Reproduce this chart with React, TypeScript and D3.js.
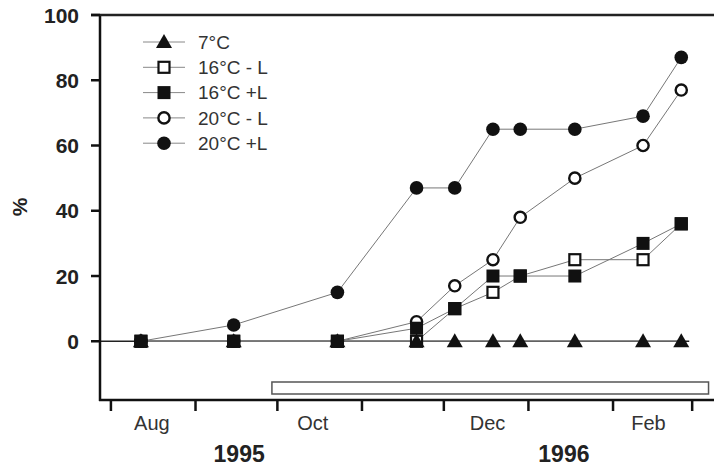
import * as d3 from 'd3';

const sampleDates = ["1995-08-12", "1995-09-15", "1995-10-23", "1995-11-21", "1995-12-05", "1995-12-19", "1995-12-29", "1996-01-18", "1996-02-12", "1996-02-26"];
const t7 = [0, 0, 0, 0, 0, 0, 0, 0, 0, 0];
const t16minus = [0, 0, 0, 0, 10, 15, 20, 25, 25, 36];
const t16plus = [0, 0, 0, 4, 10, 20, 20, 20, 30, 36];
const t20minus = [0, 0, 0, 6, 17, 25, 38, 50, 60, 77];
const t20plus = [0, 5, 15, 47, 47, 65, 65, 65, 69, 87];

const seriesNames = ["7°C", "16°C - L", "16°C +L", "20°C - L", "20°C +L"];
const seriesShapes = ["triangle", "square-open", "square", "circle-open", "circle"];
const seriesValues = [t7, t16minus, t16plus, t20minus, t20plus];

const yTicks = [0, 20, 40, 60, 80, 100];
const monthTicks = ["1995-08-01", "1995-09-01", "1995-10-01", "1995-11-01", "1995-12-01", "1996-01-01", "1996-02-01", "1996-03-01"];
const monthLabels = ["Aug", "Oct", "Dec", "Feb"];
const monthLabelDates = ["1995-08-16", "1995-10-14", "1995-12-17", "1996-02-14"];
const yearLabels = ["1995", "1996"];
const yearLabelDates = ["1995-09-17", "1996-01-14"];
const periodBar = ["1995-09-29", "1996-03-07"];

const FONT = "'Liberation Sans', Arial, sans-serif";
const parse = d3.timeParse("%Y-%m-%d");

function Marker({ shape, x, y }: { shape: string; x: number; y: number }) {
  if (shape === "triangle") {
    return <path d={`M${x},${y - 8}L${x + 8},${y + 6}L${x - 8},${y + 6}Z`} fill="#111" />;
  }
  if (shape === "square") {
    return <rect x={x - 6.5} y={y - 6.5} width={13} height={13} fill="#111" />;
  }
  if (shape === "square-open") {
    return <rect x={x - 5.5} y={y - 5.5} width={11} height={11} fill="#fff" stroke="#111" strokeWidth={2.2} />;
  }
  if (shape === "circle") {
    return <circle cx={x} cy={y} r={6.8} fill="#111" />;
  }
  return <circle cx={x} cy={y} r={5.6} fill="#fff" stroke="#111" strokeWidth={2.4} />;
}

export default function App() {
  const width = 714;
  const height = 468;
  const left = 100;
  const top = 15;
  const bottom = 400;

  const x = d3.scaleTime()
    .domain([parse("1995-07-28")!, parse("1996-03-09")!])
    .range([left, width]);
  const y = d3.scaleLinear().domain([-18, 100]).range([bottom, top]);

  const dates = sampleDates.map(d => parse(d)!);
  const line = d3.line<number>()
    .x((_, i) => x(dates[i]))
    .y(v => y(v));

  const lastX = x(dates[dates.length - 1]);
  // stacking order of the markers where they overlap
  const drawOrder = [3, 1, 0, 4, 2];

  return (
    <div style={{ position: "absolute", left: 0, top: 0 }}>
      <svg width={width} height={height} style={{ display: "block", background: "#fff" }} fontFamily={FONT}>
        {/* treatment period bar */}
        <rect
          x={x(parse(periodBar[0])!)}
          y={382}
          width={x(parse(periodBar[1])!) - x(parse(periodBar[0])!)}
          height={12}
          fill="#fff"
          stroke="#555"
          strokeWidth={1.5}
        />

        {/* zero line */}
        <line x1={left - 9} x2={lastX + 8} y1={y(0)} y2={y(0)} stroke="#222" strokeWidth={1.3} />

        {/* series lines */}
        {seriesValues.map((vals, i) => (
          <path key={"l" + i} d={line(vals) || ""} fill="none" stroke="#777" strokeWidth={1} />
        ))}

        {/* markers */}
        {drawOrder.map(si =>
          seriesValues[si].map((v, j) => (
            <Marker key={si + "-" + j} shape={seriesShapes[si]} x={x(dates[j])} y={y(v)} />
          ))
        )}

        {/* axes */}
        <line x1={left} x2={left} y1={top - 1} y2={bottom + 1} stroke="#111" strokeWidth={2.5} />
        <line x1={left - 9} x2={width} y1={top} y2={top} stroke="#222" strokeWidth={2.5} />
        <line x1={left - 1} x2={width} y1={bottom} y2={bottom} stroke="#111" strokeWidth={2.5} />

        {yTicks.map(t => (
          <g key={"y" + t}>
            <line x1={left - 9} x2={left} y1={y(t)} y2={y(t)} stroke="#111" strokeWidth={2.5} />
            <text x={79} y={y(t)} dy="0.36em" textAnchor="end" fontSize={21} fontWeight="bold" fill="#222">{t}</text>
          </g>
        ))}

        {monthTicks.map(d => (
          <line key={d} x1={x(parse(d)!)} x2={x(parse(d)!)} y1={bottom} y2={bottom + 11} stroke="#111" strokeWidth={2.5} />
        ))}

        {monthLabels.map((m, i) => (
          <text key={m} x={x(parse(monthLabelDates[i])!)} y={430} textAnchor="middle" fontSize={20} fill="#333">{m}</text>
        ))}

        {yearLabels.map((yl, i) => (
          <text key={yl} x={x(parse(yearLabelDates[i])!)} y={462} textAnchor="middle" fontSize={23} fontWeight="bold" fill="#222">{yl}</text>
        ))}

        <text transform={`translate(27,207) rotate(-90)`} textAnchor="middle" fontSize={21} fontWeight="bold" fill="#222">%</text>

        {/* legend */}
        {seriesNames.map((name, i) => {
          const ly = 42 + i * 25.3;
          return (
            <g key={name}>
              <line x1={143} x2={185} y1={ly} y2={ly} stroke="#888" strokeWidth={1} />
              <Marker shape={seriesShapes[i]} x={164} y={ly} />
              <text x={198} y={ly} dy="0.36em" fontSize={19} fill="#333">{name}</text>
            </g>
          );
        })}
      </svg>
    </div>
  );
}
